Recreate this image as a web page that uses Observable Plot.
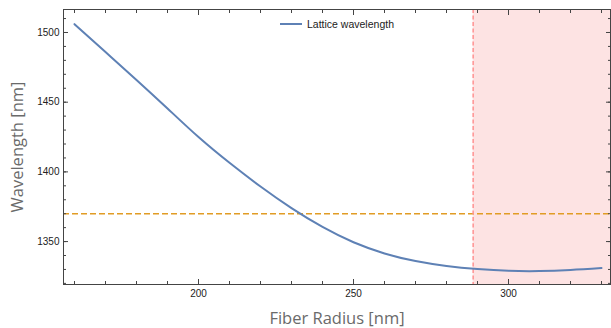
<!DOCTYPE html>
<html>
<head>
<meta charset="utf-8">
<script src="https://cdn.jsdelivr.net/npm/d3@7"></script>
<script src="https://cdn.jsdelivr.net/npm/@observablehq/plot@0.6"></script>
<style>
  html, body { margin: 0; padding: 0; background: white; }
  #wrap { position: relative; width: 611px; height: 328px; }
  #legend { position: absolute; left: 280px; top: 18px; display: flex; align-items: center;
            font-family: "Liberation Sans", Arial, sans-serif; font-size: 10.5px; color: #222; }
  #legend .sw { width: 22px; height: 2px; background: #5e81b5; margin-right: 5px; }
</style>
</head>
<body>
<div id="wrap"><div id="legend"><span class="sw"></span><span>Lattice wavelength</span></div></div>
<script>
// Data
const radius = [160, 170, 180, 190, 200, 210, 220, 230, 240, 250, 260, 270, 280, 290, 300, 310, 320, 330];
const wavelength = [1506, 1486, 1466, 1445.5, 1425, 1406.5, 1389.5, 1374, 1360.5, 1349.5, 1341.5, 1336, 1332.5, 1330.3, 1329, 1328.8, 1329.6, 1331];
const seriesName = "Lattice wavelength";
const targetWavelength = 1370;
const cutoffRadius = 288.6;
const xDomain = [156.45, 332.9];
const yDomain = [1319.2, 1516.5];
const xTicks = [200, 250, 300];
const yTicks = [1350, 1400, 1450, 1500];
const xMinor = d3.range(160, 331, 10);
const yMinor = d3.range(1320, 1511, 10);
const xLabel = "Fiber Radius [nm]";
const yLabel = "Wavelength [nm]";

const data = radius.map((r, i) => ({r, w: wavelength[i]}));
const blank = () => "";
const plain = d => String(d);
const frameColor = "#444";
const titleFont = "'Open Sans', sans-serif";

const chart = Plot.plot({
  width: 611, height: 328,
  marginLeft: 63, marginRight: 1, marginTop: 9, marginBottom: 44,
  x: {domain: xDomain},
  y: {domain: yDomain},
  style: {fontFamily: "'Liberation Sans', Arial, sans-serif", fontSize: "10px", color: "#222", background: "white"},
  marks: [
    Plot.rect([{x1: cutoffRadius, x2: xDomain[1]}], {x1: "x1", x2: "x2", fill: "#fde3e3"}),
    Plot.ruleY([targetWavelength], {stroke: "#e19c24", strokeWidth: 1.5, strokeDasharray: "6,3"}),
    Plot.ruleX([cutoffRadius], {stroke: "#ff9494", strokeWidth: 1.5, strokeDasharray: "4,2.5"}),
    Plot.line(data, {x: "r", y: "w", stroke: "#5e81b5", strokeWidth: 2, curve: "natural"}),
    Plot.frame({stroke: frameColor}),
    // labels
    Plot.axisX(xTicks, {anchor: "bottom", tickSize: 0, tickPadding: 5, tickFormat: plain, label: null}),
    Plot.axisY(yTicks, {anchor: "left", tickSize: 0, tickPadding: 4, tickFormat: plain, label: null}),
    // major ticks (inward)
    Plot.axisX(xTicks, {anchor: "bottom", tickSize: -5, tickFormat: blank, label: null, stroke: frameColor}),
    Plot.axisX(xTicks, {anchor: "top", tickSize: -5, tickFormat: blank, label: null, stroke: frameColor}),
    Plot.axisY(yTicks, {anchor: "left", tickSize: -5, tickFormat: blank, label: null, stroke: frameColor}),
    Plot.axisY(yTicks, {anchor: "right", tickSize: -5, tickFormat: blank, label: null, stroke: frameColor}),
    // minor ticks
    Plot.axisX(xMinor, {anchor: "bottom", tickSize: -3, tickFormat: blank, label: null, stroke: frameColor}),
    Plot.axisX(xMinor, {anchor: "top", tickSize: -3, tickFormat: blank, label: null, stroke: frameColor}),
    Plot.axisY(yMinor, {anchor: "left", tickSize: -3, tickFormat: blank, label: null, stroke: frameColor}),
    Plot.axisY(yMinor, {anchor: "right", tickSize: -3, tickFormat: blank, label: null, stroke: frameColor}),
    // axis titles
    Plot.text([xLabel], {frameAnchor: "bottom", dy: 34, text: d => d, fontSize: 16.5, fill: "#6a6a6a",
      fontFamily: titleFont, textAnchor: "middle", lineAnchor: "middle"}),
    Plot.text([yLabel], {frameAnchor: "middle", dx: -319, rotate: -90, text: d => d, fontSize: 16.5, fill: "#6a6a6a",
      fontFamily: titleFont, textAnchor: "middle", lineAnchor: "middle"})
  ]
});
document.getElementById("wrap").prepend(chart);
</script>
</body>
</html>
